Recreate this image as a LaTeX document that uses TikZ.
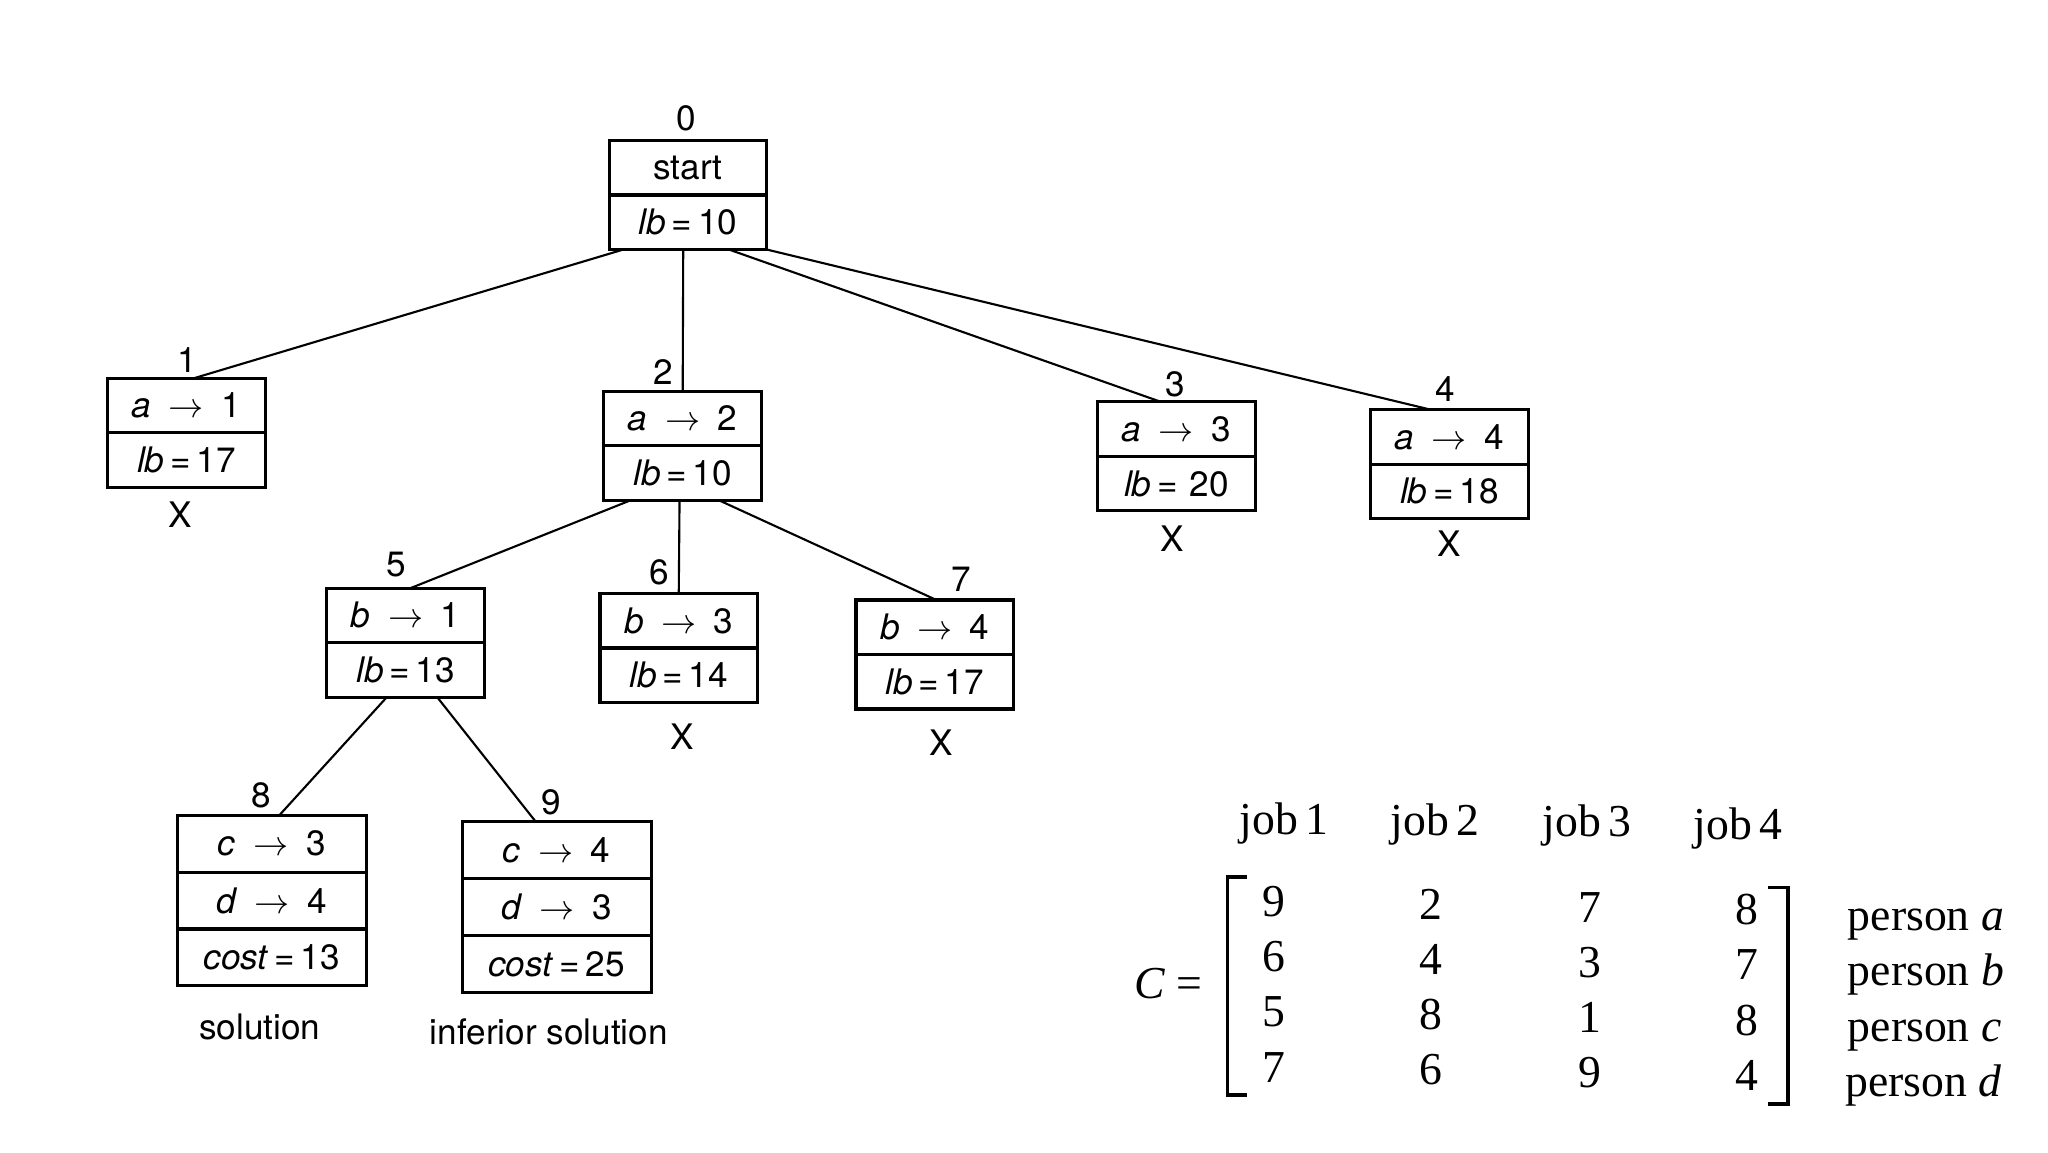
\documentclass[tikz,border=0pt]{standalone}
\usepackage{fontspec}
\setmainfont{Liberation Serif}
\newfontfamily\hvfont{TeX Gyre Heros}
\usetikzlibrary{calc}
\newcommand\asgn[2]{\textit{#1}\enspace$\rightarrow$\enspace #2}
\newcommand\lbval[1]{\textit{lb}\,=\,#1}
\begin{document}
\begin{tikzpicture}[x=0.013128cm, y=-0.013128cm,
  cell/.style={draw, line width=0.9pt, inner sep=0pt, outer sep=0pt,
    minimum width=1.5754cm, minimum height=0.545cm,
    font=\hvfont\fontsize{10}{12}\selectfont},
  wcell/.style={cell, minimum width=1.89cm, minimum height=0.568cm},
  tlab/.style={font=\hvfont\fontsize{10}{12}\selectfont, inner sep=0pt},
  edge/.style={line width=0.6pt},
  mtx/.style={font=\fontsize{13}{15}\selectfont, inner sep=0pt},
  brk/.style={line width=1.1pt},
]
\useasboundingbox (0,0) rectangle (1560,877.5);

% ---- tree nodes ----
\node[cell, anchor=north west] (n0a) at (464,107) {start};
\node[cell, anchor=north] (n0b) at (n0a.south) {\lbval{10}};

\node[cell, anchor=north west] (n1a) at (82,288) {\asgn{a}{1}};
\node[cell, anchor=north] (n1b) at (n1a.south) {\lbval{17}};

\node[cell, anchor=north west] (n2a) at (460,298) {\asgn{a}{2}};
\node[cell, anchor=north] (n2b) at (n2a.south) {\lbval{10}};

\node[cell, anchor=north west] (n3a) at (836,306) {\asgn{a}{3}};
\node[cell, anchor=north] (n3b) at (n3a.south) {\textit{lb}\,=\,\,20};

\node[cell, anchor=north west] (n4a) at (1044,312) {\asgn{a}{4}};
\node[cell, anchor=north] (n4b) at (n4a.south) {\lbval{18}};

\node[cell, anchor=north west] (n5a) at (249,448) {\asgn{b}{1}};
\node[cell, anchor=north] (n5b) at (n5a.south) {\lbval{13}};

\node[cell, anchor=north west] (n6a) at (457,452) {\asgn{b}{3}};
\node[cell, anchor=north] (n6b) at (n6a.south) {\lbval{14}};

\node[cell, anchor=north west] (n7a) at (652,457) {\asgn{b}{4}};
\node[cell, anchor=north] (n7b) at (n7a.south) {\lbval{17}};

\node[wcell, anchor=north west] (n8a) at (135,621) {\asgn{c}{3}};
\node[wcell, anchor=north] (n8b) at (n8a.south) {\asgn{d}{4}};
\node[wcell, anchor=north] (n8c) at (n8b.south) {\textit{cost}\,=\,13};

\node[wcell, anchor=north west] (n9a) at (352,626) {\asgn{c}{4}};
\node[wcell, anchor=north] (n9b) at (n9a.south) {\asgn{d}{3}};
\node[wcell, anchor=north] (n9c) at (n9b.south) {\textit{cost}\,=\,25};

% ---- node numbers ----
\node[tlab] (l0) at (523,90) {0};
\node[tlab] (l1) at (143,274) {1};
\node[tlab] (l2) at (505,283) {2};
\node[tlab] (l3) at (895,293) {3};
\node[tlab] (l4) at (1101,296) {4};
\node[tlab] (l5) at (302,430) {5};
\node[tlab] (l6) at (502,436) {6};
\node[tlab] (l7) at (732,441) {7};
\node[tlab] (l8) at (199,606) {8};
\node[tlab] (l9) at (420,611) {9};

% ---- pruned marks and captions ----
\node[tlab] (x1) at (137,392) {X};
\node[tlab] (x3) at (893,410) {X};
\node[tlab] (x4) at (1104,414) {X};
\node[tlab] (x6) at (520,561) {X};
\node[tlab] (x7) at (717,566) {X};
\node[tlab] (s8) at (198,782) {solution};
\node[tlab] (s9) at (418,786) {inferior solution};

% ---- edges ----
\draw[edge] ($(n0b.south west)!0.09!(n0b.south east)$) -- ($(n1a.north west)!0.55!(n1a.north east)$);
\draw[edge] ($(n0b.south west)!0.47!(n0b.south east)$) -- ($(n2a.north west)!0.5!(n2a.north east)$);
\draw[edge] ($(n0b.south west)!0.76!(n0b.south east)$) -- ($(n3a.north west)!0.40!(n3a.north east)$);
\draw[edge] (n0b.south east) -- ($(n4a.north west)!0.38!(n4a.north east)$);
\draw[edge] ($(n2b.south west)!0.17!(n2b.south east)$) -- ($(n5a.north west)!0.53!(n5a.north east)$);
\draw[edge] ($(n2b.south west)!0.48!(n2b.south east)$) -- ($(n6a.north west)!0.5!(n6a.north east)$);
\draw[edge] ($(n2b.south west)!0.73!(n2b.south east)$) -- ($(n7a.north west)!0.51!(n7a.north east)$);
\draw[edge] ($(n5b.south west)!0.38!(n5b.south east)$) -- ($(n8a.north west)!0.54!(n8a.north east)$);
\draw[edge] ($(n5b.south west)!0.70!(n5b.south east)$) -- ($(n9a.north west)!0.39!(n9a.north east)$);

% ---- cost matrix ----
\node[mtx] (j1) at (978,627) {job\,1};
\node[mtx] (j2) at (1093,628) {job\,2};
\node[mtx] (j3) at (1209,629) {job\,3};
\node[mtx] (j4) at (1324,631) {job\,4};

\node[mtx] (ceq) at (890,749) {\textit{C} =};

\draw[brk] (950,668) -- (935,668) -- (935,834) -- (950,834);
\draw[brk] (1347,676) -- (1362,676) -- (1362,841) -- (1347,841);

\node[mtx] (m11) at (970,687) {9};
\node[mtx] (m12) at (1090,689) {2};
\node[mtx] (m13) at (1211,691) {7};
\node[mtx] (m14) at (1331,693) {8};
\node[mtx] (m21) at (970,729) {6};
\node[mtx] (m22) at (1090,731) {4};
\node[mtx] (m23) at (1211,733) {3};
\node[mtx] (m24) at (1331,735) {7};
\node[mtx] (m31) at (970,771) {5};
\node[mtx] (m32) at (1090,773) {8};
\node[mtx] (m33) at (1211,775) {1};
\node[mtx] (m34) at (1331,777) {8};
\node[mtx] (m41) at (970,813) {7};
\node[mtx] (m42) at (1090,815) {6};
\node[mtx] (m43) at (1211,817) {9};
\node[mtx] (m44) at (1331,819) {4};

\node[mtx, anchor=base west] (pa) at (1407,709) {person \textit{a}};
\node[mtx, anchor=base west] (pb) at (1407,751) {person \textit{b}};
\node[mtx, anchor=base west] (pc) at (1407,793) {person \textit{c}};
\node[mtx, anchor=base west] (pd) at (1405,835) {person \textit{d}};
\end{tikzpicture}
\end{document}
